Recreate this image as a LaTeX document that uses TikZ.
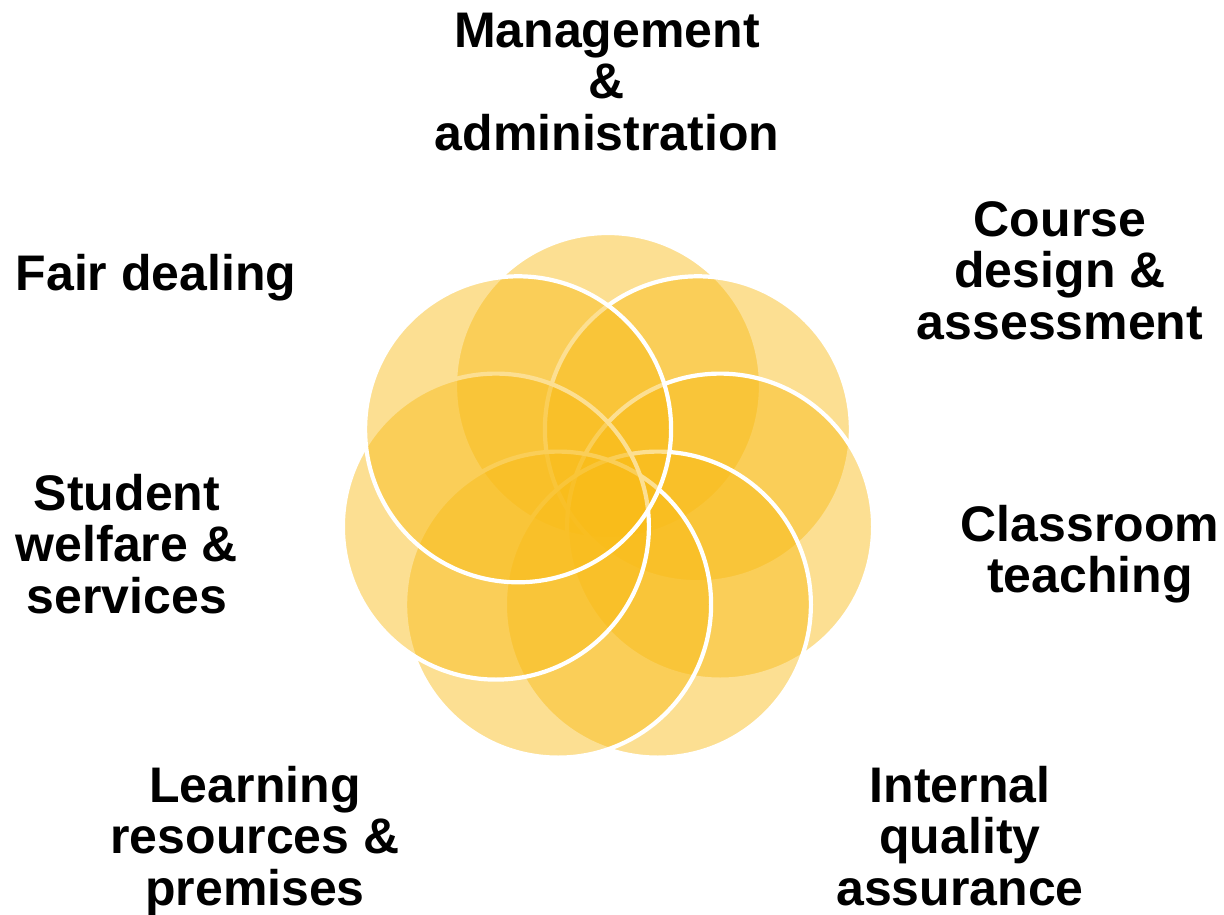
\documentclass[tikz,border=0pt]{standalone}
\usepackage{fontspec}
\setmainfont{Liberation Sans}
\definecolor{petal}{RGB}{249,188,24}
\tikzset{
  petalcircle/.style={fill=petal, fill opacity=0.47, draw=white, draw opacity=1, line width=4.2pt},
  lbl/.style={font=\fontsize{50}{51.5}\selectfont\bfseries, align=center, inner sep=0pt, anchor=base, text=black}
}
\begin{document}
\begin{tikzpicture}[x=1pt,y=-1pt]
\fill[white] (0,0) rectangle (1224,915);
\useasboundingbox (0,0) rectangle (1224,915);
% circle centres
\coordinate (c1) at (608,386);
\coordinate (c2) at (697.9,429.3);
\coordinate (c3) at (720.1,526.6);
\coordinate (c4) at (657.9,604.6);
\coordinate (c5) at (558.1,604.6);
\coordinate (c6) at (495.9,526.6);
\coordinate (c7) at (518.1,429.3);
\foreach \i in {1,...,7}{
  \path[petalcircle] (c\i) circle[radius=153];
}
% labels (anchor base = baseline of the last line)
\node[lbl] (mgmt) at (607,150) {Management\\\&\\administration};
\node[lbl] (course) at (1060,339) {Course\\design \&\\assessment};
\node[lbl] (class) at (1090,592.5) {Classroom\\teaching};
\node[lbl] (iqa) at (960,905) {Internal\\quality\\assurance};
\node[lbl] (learn) at (255,905) {Learning\\resources \&\\premises};
\node[lbl] (student) at (127,613) {Student\\welfare \&\\services};
\node[lbl] (fair) at (156,290) {Fair dealing};
\end{tikzpicture}
\end{document}
